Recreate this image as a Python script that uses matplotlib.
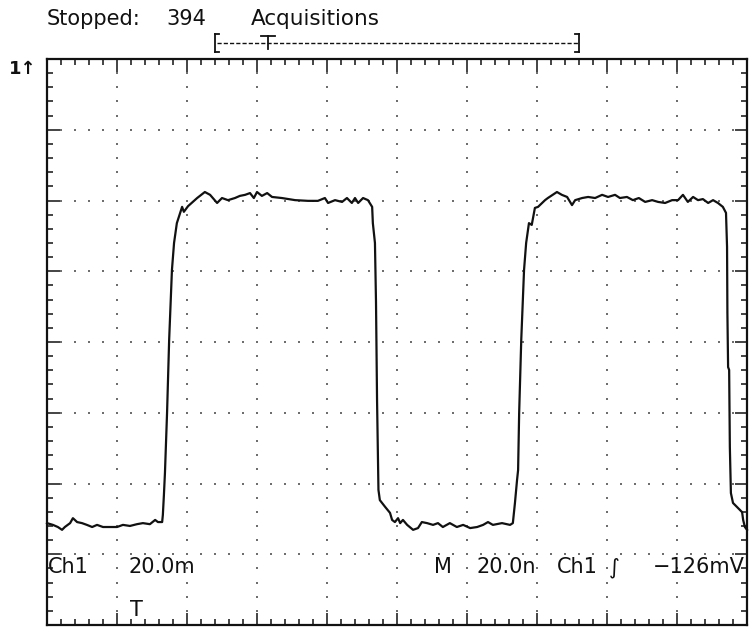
#Scope capture redrawn: Ch1 square wave, 20 mV/div, 20 ns/div
import matplotlib.pyplot as plt
import numpy as np

#SCOPE SETTINGS
NS_PER_DIV = 20
MV_PER_DIV = 20
H_DIVS = 10
V_DIVS = 8
ACQUISITIONS = 394

#captured trace: time in ns from left edge, level in mV from screen centre
t_ns = [0.0, 1.7, 3.1, 4.3, 5.1, 6.6, 7.4, 8.6, 10.0, 11.4, 12.9, 14.3, 16.0, 18.0,
        20.0, 21.7, 23.7, 25.7, 27.4, 29.4, 30.9, 31.7, 32.9, 33.1, 33.4, 33.7,
        34.3, 34.9, 35.7, 36.3, 37.1, 38.6, 39.1, 40.3, 42.9, 45.1,
        46.6, 48.6, 50.0, 51.7, 53.7, 55.1, 56.6, 58.0, 59.1, 60.0, 61.4, 62.9,
        64.3, 67.1, 70.9, 74.6, 77.4, 79.4, 80.3, 82.3, 84.3, 85.7, 87.1, 88.0,
        88.9, 90.3, 91.7, 92.9, 93.1,
        93.7, 94.0, 94.3, 94.6, 94.7, 95.1, 96.6, 98.0, 98.6, 99.4, 100.3, 100.9,
        101.7, 102.9, 104.6, 106.0, 107.1, 108.6, 110.3, 111.7, 113.1, 115.1,
        117.1, 118.9, 120.9, 122.9, 124.6, 126.0, 127.4, 130.0, 132.3, 133.1,
        133.7, 134.3, 134.6, 134.9, 135.5, 136.3, 136.9, 137.7, 138.5, 139.4,
        140.3, 142.3, 143.1, 145.7, 147.1, 148.6, 150.0, 150.9, 152.9, 154.6,
        156.6, 158.6, 160.3, 162.3, 163.7, 165.7, 167.4, 169.1, 170.9, 172.9,
        174.6, 176.6, 178.6, 180.3, 181.7, 183.1, 184.6, 186.0, 187.4, 188.9,
        190.3, 191.7, 193.1, 194.0, 194.3, 194.4, 194.6, 194.9, 195.1, 195.4,
        196.0, 197.4, 198.6, 198.9, 199.4, 200.0]
v_mv = [-51.2, -51.7, -52.3, -53.1, -52.3, -51.2, -49.8, -50.9, -51.2, -51.7, -52.3, -51.7, -52.3, -52.3,
        -52.3, -51.7, -52.0, -51.5, -51.2, -51.5, -50.3, -50.9, -50.9, -48.9, -43.3, -37.0,
        -20.1, 0.6, 20.4, 28.0, 33.6, 38.2, 36.8, 38.4, 40.7, 42.4,
        41.6, 39.3, 40.7, 40.1, 40.7, 41.3, 41.6, 42.1, 40.7, 42.4, 41.3, 42.1,
        41.0, 40.7, 40.1, 39.9, 39.9, 40.7, 39.3, 40.1, 39.6, 40.7, 39.3, 40.7,
        39.3, 40.7, 40.1, 38.2, 33.6,
        28.0, 11.3, -16.4, -36.2, -41.8, -44.7, -46.6, -48.3, -50.3, -50.9, -49.8, -51.2,
        -50.3, -51.7, -53.1, -52.6, -50.9, -51.2, -51.7, -51.2, -52.3, -51.2,
        -52.3, -51.7, -52.6, -52.3, -51.7, -50.9, -51.7, -51.2, -51.7, -51.2,
        -45.5, -39.0, -36.2, -20.1, 0.6, 20.4, 28.0, 33.6, 33.1, 37.9,
        38.2, 40.1, 40.7, 42.4, 41.6, 41.0, 38.7, 40.1, 40.7, 41.0,
        40.7, 41.6, 41.0, 41.6, 40.7, 41.0, 40.1, 40.7, 39.6, 40.1,
        39.6, 39.3, 40.1, 40.1, 41.6, 39.6, 41.0, 40.1, 40.4, 39.3,
        40.1, 39.3, 38.2, 36.5, 26.9, 8.2, -7.1, -7.9, -29.7, -42.7,
        -45.5, -46.9, -48.1, -50.3, -52.3, -53.1]

W, H = 752, 635
INK = '#111111'

fig = plt.figure(figsize=(W / 100, H / 100), dpi=100)
fig.patch.set_facecolor('white')
#screen box in pixels: left 47, right 747, top 59, bottom 625
ax = fig.add_axes([47 / W, 1 - 625 / H, 700 / W, 566 / H])

x_max = NS_PER_DIV * H_DIVS
y_max = MV_PER_DIV * V_DIVS / 2
ax.set_xlim(0, x_max)
ax.set_ylim(-y_max, y_max)

#graticule: dotted lines made of dots every 1/5 division
minor_x = np.arange(0, x_max + 0.1, NS_PER_DIV / 5)
minor_y = np.arange(-y_max, y_max + 0.1, MV_PER_DIV / 5)
for gx in np.arange(NS_PER_DIV, x_max, NS_PER_DIV):
    ax.scatter(np.full(len(minor_y), gx), minor_y, s=3.5, marker='s', color='#6e6e6e', linewidths=0, zorder=1)
for gy in np.arange(-y_max + MV_PER_DIV, y_max, MV_PER_DIV):
    ax.scatter(minor_x, np.full(len(minor_x), gy), s=3.5, marker='s', color='#6e6e6e', linewidths=0, zorder=1)

#frame ticks pointing inward on all sides
ax.set_xticks(np.arange(0, x_max + 0.1, NS_PER_DIV))
ax.set_yticks(np.arange(-y_max, y_max + 0.1, MV_PER_DIV))
ax.set_xticks(minor_x, minor=True)
ax.set_yticks(minor_y, minor=True)
ax.tick_params(which='both', direction='in', top=True, right=True, bottom=True, left=True,
               labelbottom=False, labelleft=False, color=INK, width=1.1)
ax.tick_params(which='major', length=9)
ax.tick_params(which='minor', length=4)
for sp in ax.spines.values():
    sp.set_linewidth(1.6)
    sp.set_color(INK)

ax.plot(t_ns, v_mv, color=INK, lw=1.6, zorder=3, clip_on=False)

#header
def px(x, y):
    return x / W, 1 - y / H

font = dict(family='DejaVu Sans', fontsize=15, color=INK, va='baseline')
fig.text(*px(47, 25), 'Stopped:', **font)
fig.text(*px(166, 25), str(ACQUISITIONS), **font)
fig.text(*px(251, 25), 'Acquisitions', fontsize=15.5, family='DejaVu Sans', color=INK, va='baseline')

#record view bracket [--T-----------]
def seg(x0, y0, x1, y1, **kw):
    fig.add_artist(plt.Line2D([x0 / W, x1 / W], [1 - y0 / H, 1 - y1 / H], color=INK, **kw))

seg(215, 34, 215, 52, lw=1.3)
seg(215, 34, 219, 34, lw=1.3)
seg(215, 52, 219, 52, lw=1.3)
seg(579, 34, 579, 52, lw=1.3)
seg(575, 34, 579, 34, lw=1.3)
seg(575, 52, 579, 52, lw=1.3)
seg(217, 43, 578, 43, lw=1, linestyle=(0, (3, 1.5)))
seg(261, 36, 275, 36, lw=1.3)
seg(268, 36, 268, 49, lw=1.3)

#ground marker
fig.text(*px(9, 74), '1\u2191', fontsize=13, fontweight='bold', color=INK, va='baseline', family='DejaVu Sans')

#readouts inside the screen
fig.text(*px(48, 573), 'Ch1', **font)
fig.text(*px(128, 573), '20.0m', **font)
fig.text(*px(434, 573), 'M', **font)
fig.text(*px(476, 573), '20.0n', **font)
fig.text(*px(557, 573), 'Ch1', **font)
fig.text(*px(609, 573), '\u222b', **font)
fig.text(*px(745, 573), '\u2212126mV', ha='right', **font)
fig.text(*px(130, 616), 'T', **font)

plt.savefig('out.png', dpi=100)
